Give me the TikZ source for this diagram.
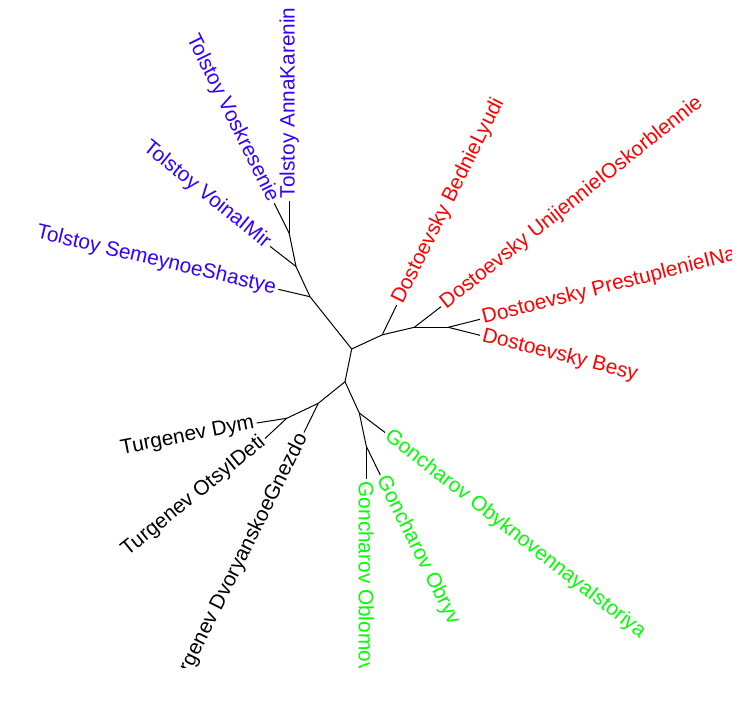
\documentclass[tikz,border=0pt]{standalone}
\usepackage{fontspec}
\setmainfont{Liberation Sans}
\definecolor{tolstoy}{RGB}{51,0,255}
\definecolor{dostoevsky}{RGB}{255,0,0}
\definecolor{goncharov}{RGB}{0,255,0}
\tikzset{
  branch/.style={line width=1pt},
  leafr/.style={anchor=west,inner sep=2.5pt,font=\fontsize{20.8}{24}\selectfont},
  leafl/.style={anchor=east,inner sep=2.5pt,font=\fontsize{20.8}{24}\selectfont}
}
\begin{document}
\begin{tikzpicture}[x=1pt,y=-1pt]
  \useasboundingbox (0,0) rectangle (747,705);
  \clip (0,8) rectangle (731,667);
  \coordinate (r1) at (351.7,349);\coordinate (r2) at (345,381.7);
  \coordinate (t1) at (310,296.7);\coordinate (t2) at (296,266.5);\coordinate (t3) at (289.2,233.3);
  \coordinate (d1) at (382.3,334.8);\coordinate (d2) at (414.3,327.3);\coordinate (d3) at (448.3,327.3);
  \coordinate (u1) at (318.3,403.3);\coordinate (u2) at (286.7,418.3);
  \coordinate (g1) at (359.3,413);\coordinate (g2) at (366.3,446.3);

  \coordinate (anna) at (289.2,201);\coordinate (voskr) at (274.3,203.3);
  \coordinate (voina) at (270,246.3);\coordinate (semey) at (278.3,289.3);
  \coordinate (bedn) at (396.7,305);\coordinate (unij) at (441,306.7);
  \coordinate (prest) at (480,319.3);\coordinate (besy) at (480,335.3);
  \coordinate (dym) at (256.7,423);\coordinate (deti) at (265,438.5);\coordinate (dvor) at (304,432.5);
  \coordinate (obykn) at (385,432.5);\coordinate (oblom) at (366.3,479);\coordinate (obryv) at (380.3,475);

  \draw[branch] (r1) -- (r2);
  \draw[branch] (r1) -- (t1);\draw[branch] (t1) -- (t2);\draw[branch] (t2) -- (t3);
  \draw[branch] (t3) -- (anna);\draw[branch] (t3) -- (voskr);\draw[branch] (t2) -- (voina);\draw[branch] (t1) -- (semey);
  \draw[branch] (r1) -- (d1);\draw[branch] (d1) -- (d2);\draw[branch] (d2) -- (d3);
  \draw[branch] (d1) -- (bedn);\draw[branch] (d2) -- (unij);\draw[branch] (d3) -- (prest);\draw[branch] (d3) -- (besy);
  \draw[branch] (r2) -- (u1);\draw[branch] (u1) -- (u2);
  \draw[branch] (u2) -- (dym);\draw[branch] (u2) -- (deti);\draw[branch] (u1) -- (dvor);
  \draw[branch] (r2) -- (g1);\draw[branch] (g1) -- (g2);
  \draw[branch] (g1) -- (obykn);\draw[branch] (g2) -- (oblom);\draw[branch] (g2) -- (obryv);

  \node[leafr,tolstoy,rotate=90] (annaL) at (anna) {Tolstoy AnnaKarenina};
  \node[leafl,tolstoy,rotate=-63.6] (voskrL) at (voskr) {Tolstoy Voskresenie};
  \node[leafl,tolstoy,rotate=-39] (voinaL) at (voina) {Tolstoy VoinaIMir};
  \node[leafl,tolstoy,rotate=-13.2] (semeyL) at (semey) {Tolstoy SemeynoeShastye};
  \node[leafr,dostoevsky,rotate=63.5] (bednL) at (bedn) {Dostoevsky BednieLyudi};
  \node[leafr,dostoevsky,rotate=38.5] (unijL) at (unij) {Dostoevsky UnijennieIOskorblennie};
  \node[leafr,dostoevsky,rotate=14.2] (prestL) at (prest) {Dostoevsky PrestuplenieINakazanie};
  \node[leafr,dostoevsky,rotate=-14.2] (besyL) at (besy) {Dostoevsky Besy};
  \node[leafl,rotate=11] (dymL) at (dym) {Turgenev Dym};
  \node[leafl,rotate=39] (detiL) at (deti) {Turgenev OtsyIDeti};
  \node[leafl,rotate=63.5] (dvorL) at (dvor) {Turgenev DvoryanskoeGnezdo};
  \node[leafr,goncharov,rotate=-38] (obyknL) at (obykn) {Goncharov ObyknovennayaIstoriya};
  \node[leafr,goncharov,rotate=-90] (oblomL) at (oblom) {Goncharov Oblomov};
  \node[leafr,goncharov,rotate=-63.5] (obryvL) at (obryv) {Goncharov Obryv};
\end{tikzpicture}
\end{document}
